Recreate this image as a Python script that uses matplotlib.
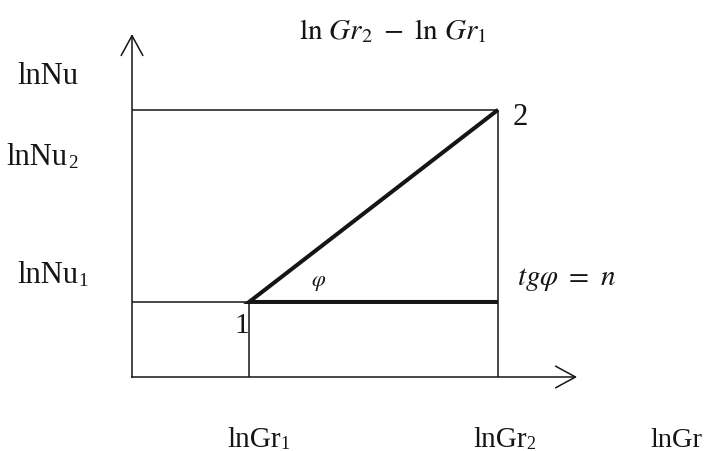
import matplotlib
matplotlib.use('Agg')
import matplotlib.pyplot as plt

plt.rcParams['font.family'] = ['Liberation Serif', 'DejaVu Serif']
plt.rcParams['mathtext.fontset'] = 'stix'

# diagram values (abstract log units)
ln_gr = [3.2, 10.0]        # lnGr1, lnGr2
ln_nu = [2.05, 7.3]        # lnNu1, lnNu2
x_axis_end = 12.16
y_axis_end = 9.37

y_labels = ['lnNu', 'lnNu', 'lnNu']
y_subs = ['', '2', '1']
x_labels = ['lnGr', 'lnGr']
x_subs = ['1', '2']
x_axis_name = 'lnGr'
point_labels = ['1', '2']

ink = '#151515'

fig = plt.figure(figsize=(7.05, 4.52), dpi=100)
ax = fig.add_axes([0, 0, 1, 1])
ax.set_xlim(-3.607, 15.656)
ax.set_ylim(-2.022, 10.328)
ax.axis('off')

# axes with open arrow heads
arrow = dict(arrowstyle='->,head_length=0.55,head_width=0.3', lw=1.1, color=ink,
             shrinkA=0, shrinkB=0, mutation_scale=26)
ax.annotate('', xy=(0, y_axis_end), xytext=(0, -0.01), arrowprops=arrow)
ax.annotate('', xy=(x_axis_end, 0), xytext=(-0.01, 0), arrowprops=arrow)

# thin construction lines
thin = dict(color=ink, lw=1.1, solid_capstyle='butt')
ax.plot([0, ln_gr[1]], [ln_nu[1], ln_nu[1]], **thin)
ax.plot([ln_gr[1], ln_gr[1]], [0, ln_nu[1]], **thin)
ax.plot([0, ln_gr[0]], [ln_nu[0], ln_nu[0]], **thin)
ax.plot([ln_gr[0], ln_gr[0]], [0, ln_nu[0]], **thin)

# thick triangle legs 1 -> 2
ax.plot([ln_gr[1], ln_gr[0], ln_gr[1]], [ln_nu[1], ln_nu[0], ln_nu[0]],
        color=ink, lw=2.9, solid_joinstyle='miter', solid_capstyle='butt')


def label_with_sub(x, y, main, sub, fs):
    t = ax.text(x, y, main, fontsize=fs, color=ink, ha='left', va='baseline')
    if sub:
        ax.annotate(sub, xy=(1, 0), xycoords=t, fontsize=fs * 0.62, color=ink,
                    ha='left', va='bottom')
    return t


# left labels
y_label_pos = [(-3.14, 8.03), (-3.42, 5.82), (-3.14, 2.60)]
for (x, y), m, s in zip(y_label_pos, y_labels, y_subs):
    label_with_sub(x, y, m, s, 22)

# bottom labels
x_label_pos = [ln_gr[0] - 0.6, ln_gr[1] - 0.68]
for x, m, s in zip(x_label_pos, x_labels, x_subs):
    label_with_sub(x, -1.88, m, s, 21)
ax.text(15.6, -1.88, x_axis_name, fontsize=20.5, color=ink, ha='right', va='baseline')

# point numbers
ax.text(ln_gr[0] - 0.2, 1.23, point_labels[0], fontsize=21, color=ink,
        ha='center', va='baseline')
ax.text(ln_gr[1] + 0.41, 6.91, point_labels[1], fontsize=22, color=ink,
        ha='left', va='baseline')

# formulas
ax.text(4.55, 9.26, r'$\ln\,Gr_2\ -\ \ln\,Gr_1$', fontsize=21, color=ink,
        ha='left', va='baseline')
ax.text(5.11, 2.57, r'$\varphi$', fontsize=16, color=ink, ha='center', va='center')
ax.text(10.52, 2.54, r'$tg\varphi\ =\ n$', fontsize=21, color=ink,
        ha='left', va='baseline')

fig.savefig('out.png', dpi=100, facecolor='white')
